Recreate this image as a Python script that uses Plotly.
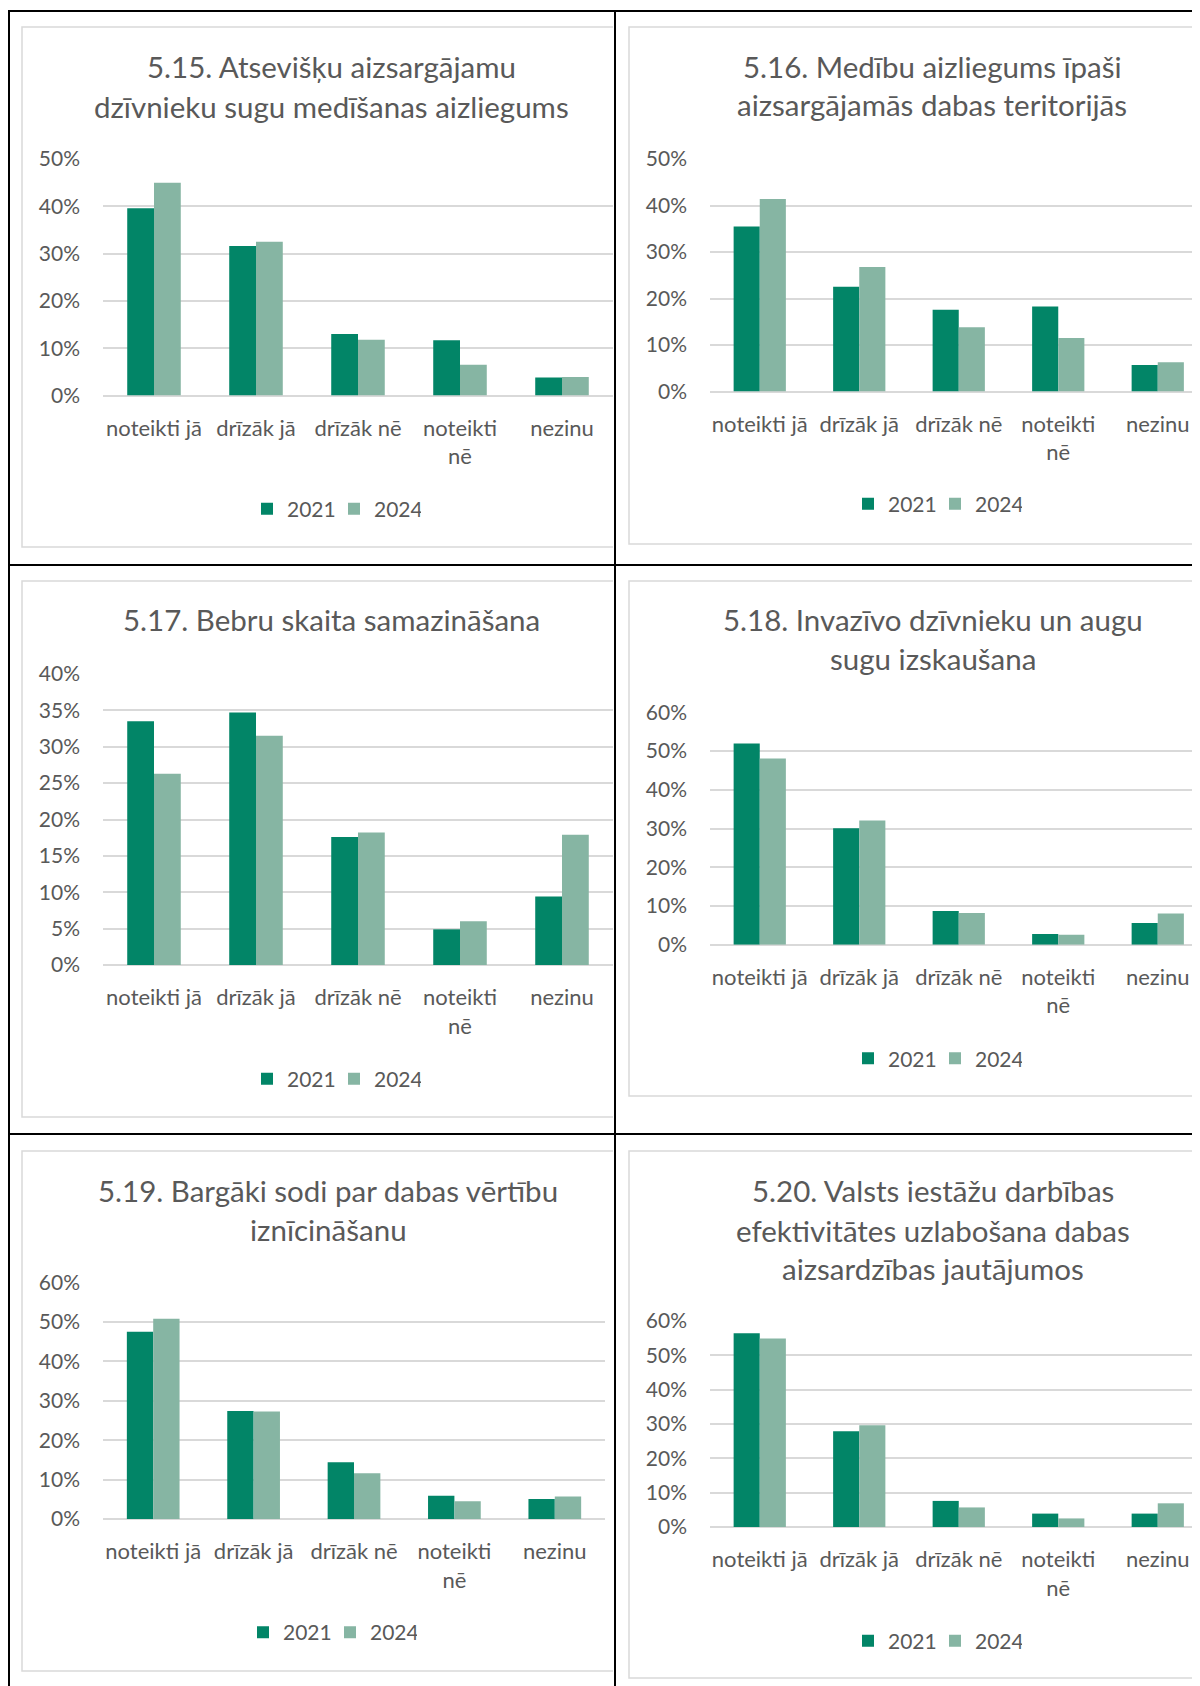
import plotly.graph_objects as go

W, H = 1200, 1686
OFF = 8  # lapas noklusētā body atkāpe

categories = ["noteikti jā", "drīzāk jā", "drīzāk nē", "noteikti nē", "nezinu"]
tick_labels = ["noteikti jā", "drīzāk jā", "drīzāk nē", "noteikti<br>nē", "nezinu"]
years = ["2021", "2024"]

titles = [
    ["5.15. Atsevišķu aizsargājamu", "dzīvnieku sugu medīšanas aizliegums"],
    ["5.16. Medību aizliegums īpaši", "aizsargājamās dabas teritorijās"],
    ["5.17. Bebru skaita samazināšana"],
    ["5.18. Invazīvo dzīvnieku un augu", "sugu izskaušana"],
    ["5.19. Bargāki sodi par dabas vērtību", "iznīcināšanu"],
    ["5.20. Valsts iestāžu darbības", "efektivitātes uzlabošana dabas", "aizsardzības jautājumos"],
]

# procenti, nolasīti no attēla
q515_2021 = [39.6, 31.6, 13.0, 11.7, 3.8]
q515_2024 = [45.0, 32.5, 11.8, 6.5, 3.9]
q516_2021 = [35.5, 22.5, 17.6, 18.3, 5.7]
q516_2024 = [41.4, 26.8, 13.8, 11.5, 6.3]
q517_2021 = [33.5, 34.7, 17.6, 4.9, 9.4]
q517_2024 = [26.3, 31.5, 18.2, 6.0, 17.9]
q518_2021 = [52.0, 30.1, 8.7, 2.8, 5.6]
q518_2024 = [48.1, 32.1, 8.2, 2.6, 8.1]
q519_2021 = [47.5, 27.4, 14.4, 5.9, 5.1]
q519_2024 = [50.8, 27.3, 11.6, 4.5, 5.7]
q520_2021 = [56.4, 27.9, 7.6, 3.9, 3.9]
q520_2024 = [54.9, 29.6, 5.7, 2.5, 6.9]

series = [
    (q515_2021, q515_2024),
    (q516_2021, q516_2024),
    (q517_2021, q517_2024),
    (q518_2021, q518_2024),
    (q519_2021, q519_2024),
    (q520_2021, q520_2024),
]

colors = ["#028567", "#86B5A3"]
txt = "#595959"
grid = "#D9D9D9"
FONT = "Lato"

# izkārtojums lapas pikseļos: plot (x0, x1, ytop, ybottom)
panels = [
    dict(plot=(103, 613, 159, 395.5), xmax=4.5, ymax=50, dtick=10,
         tx=331, ty=[67, 106], leg=(336, 509), frame=(22, 613, 27, 547)),
    dict(plot=(710, 1208, 159, 391.5), xmax=4.505, ymax=50, dtick=10,
         tx=932, ty=[67, 105], leg=(937, 504), frame=(629, 1208, 27, 544)),
    dict(plot=(103, 613, 674, 965), xmax=4.5, ymax=40, dtick=5,
         tx=331, ty=[620], leg=(336, 1079), frame=(22, 613, 581, 1117)),
    dict(plot=(710, 1208, 712.4, 944.8), xmax=4.505, ymax=60, dtick=10,
         tx=933, ty=[620, 658.6], leg=(937, 1058.7), frame=(629, 1208, 581, 1096)),
    dict(plot=(103, 605, 1282.5, 1519), xmax=4.5, ymax=60, dtick=10,
         tx=328, ty=[1190, 1229], leg=(332, 1632.6), frame=(22, 613, 1151, 1671)),
    dict(plot=(710, 1208, 1321, 1527), xmax=4.505, ymax=60, dtick=10,
         tx=932.6, ty=[1190, 1230, 1268], leg=(937, 1641), frame=(629, 1208, 1151, 1678)),
]


def fx(x):
    return (x - OFF) / W


def fy(y):
    return 1 - (y - OFF) / H


fig = go.Figure()
layout = {}
annotations = []
shapes = []

for i, p in enumerate(panels):
    n = "" if i == 0 else str(i + 1)
    leg_name = "legend" + n
    x0, x1, yt, yb = p["plot"]

    for k in range(2):
        fig.add_trace(go.Bar(
            x=categories, y=series[i][k], name=years[k],
            marker=dict(color=colors[k], line=dict(width=0)),
            xaxis="x" + n, yaxis="y" + n, legend=leg_name,
            hoverinfo="skip",
        ))

    layout["xaxis" + n] = dict(
        domain=[fx(x0), min(fx(x1), 1)], anchor="y" + n, range=[-0.5, p["xmax"]],
        type="category", tickvals=categories, ticktext=tick_labels,
        showgrid=False, showline=False, zeroline=False, ticks="",
        tickfont=dict(family=FONT, size=22, color=txt), ticklabelstandoff=17,
        fixedrange=True, automargin=False,
    )
    layout["yaxis" + n] = dict(
        domain=[fy(yb), fy(yt)], anchor="x" + n, range=[0, p["ymax"]],
        dtick=p["dtick"], ticksuffix="%", showgrid=True, gridcolor=grid,
        gridwidth=1.5, zeroline=True, zerolinecolor=grid, zerolinewidth=1.5,
        showline=False, ticks="", ticklabelstandoff=22,
        tickfont=dict(family=FONT, size=21, color=txt), fixedrange=True,
        automargin=False,
    )
    layout[leg_name] = dict(
        orientation="h", x=fx(p["leg"][0] - 2), y=fy(p["leg"][1]),
        xanchor="center", yanchor="middle", bgcolor="rgba(0,0,0,0)",
        font=dict(family=FONT, size=21, color=txt), itemwidth=30,
        entrywidth=42, entrywidthmode="pixels", traceorder="normal",
    )

    for line, yy in zip(titles[i], p["ty"]):
        annotations.append(dict(
            text=line, x=fx(p["tx"]), y=fy(yy), xref="paper", yref="paper",
            xanchor="center", yanchor="middle", showarrow=False,
            font=dict(family=FONT, size=29.5, color=txt),
        ))

    # diagrammas rāmis (labā mala nogriezta)
    fl, fr, ft, fb = p["frame"]
    shapes.append(dict(
        type="path", xref="paper", yref="paper",
        path=f"M{fx(fr)},{fy(ft)} L{fx(fl)},{fy(ft)} L{fx(fl)},{fy(fb)} L{fx(fr)},{fy(fb)}",
        line=dict(color=grid, width=1.5),
    ))

# tabulas līnijas
for xv in [9, 615]:
    shapes.append(dict(type="line", xref="paper", yref="paper",
                       x0=fx(xv), x1=fx(xv), y0=fy(10), y1=0,
                       line=dict(color="black", width=2)))
for yv in [11, 565, 1134]:
    shapes.append(dict(type="line", xref="paper", yref="paper",
                       x0=fx(8), x1=1, y0=fy(yv), y1=fy(yv),
                       line=dict(color="black", width=2)))

fig.update_layout(
    width=W, height=H, margin=dict(l=0, r=0, t=0, b=0, autoexpand=False),
    paper_bgcolor="white", plot_bgcolor="white",
    barmode="group", bargap=0.475, bargroupgap=0,
    annotations=annotations, shapes=shapes, **layout,
)

fig.write_html("out.html")
